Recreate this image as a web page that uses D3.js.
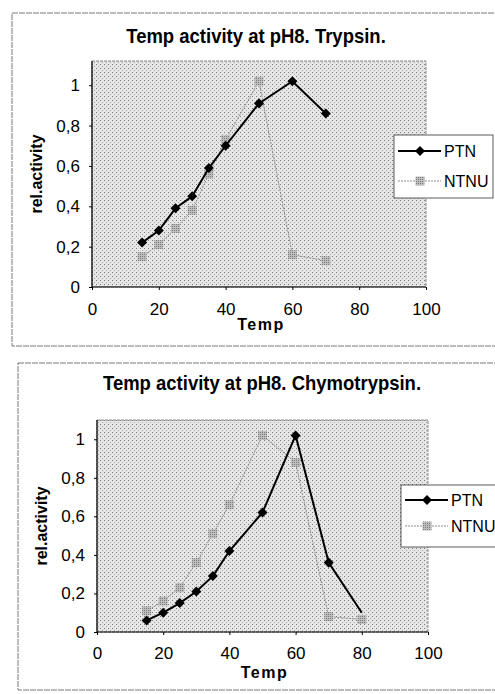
<!DOCTYPE html>
<html>
<head>
<meta charset="utf-8">
<script src="https://cdn.jsdelivr.net/npm/d3@7"></script>
<style>
  body { margin: 0; background: #fff; }
  svg { display: block; font-family: "Liberation Sans", Arial, sans-serif; }
</style>
</head>
<body>
<div id="chart-area"></div>
<script>
const xTicks = [0, 20, 40, 60, 80, 100];
const yTicks = [0, 0.2, 0.4, 0.6, 0.8, 1];

const trypsinTemp = [15, 20, 25, 30, 35, 40, 50, 60, 70];
const trypsinPTN = [0.22, 0.28, 0.39, 0.45, 0.59, 0.70, 0.91, 1.02, 0.86];
const trypsinNTNU = [0.15, 0.21, 0.29, 0.38, 0.56, 0.73, 1.02, 0.16, 0.13];

const chymoTemp = [15, 20, 25, 30, 35, 40, 50, 60, 70, 80];
const chymoPTN = [0.06, 0.10, 0.15, 0.21, 0.29, 0.42, 0.62, 1.02, 0.36, 0.10];
const chymoNTNU = [0.11, 0.16, 0.23, 0.36, 0.51, 0.66, 1.02, 0.88, 0.08, 0.065];

const fmt = v => (v === 0 || v === 1 ? String(v) : String(v).replace(".", ","));

const svg = d3.select("#chart-area")
  .append("svg")
  .attr("width", 495)
  .attr("height", 694);

// stippled gray fill of the plot area
const defs = svg.append("defs");
const pat = defs.append("pattern")
  .attr("id", "stipple")
  .attr("width", 4)
  .attr("height", 4)
  .attr("patternUnits", "userSpaceOnUse");
pat.append("rect").attr("width", 4).attr("height", 4).attr("fill", "#e6e6e6");
pat.append("rect").attr("x", 0).attr("y", 0).attr("width", 1).attr("height", 1).attr("fill", "#7a7a7a");
pat.append("rect").attr("x", 2).attr("y", 2).attr("width", 1).attr("height", 1).attr("fill", "#a8a8a8");

const pat2 = defs.append("pattern")
  .attr("id", "grayMarker")
  .attr("width", 2)
  .attr("height", 2)
  .attr("patternUnits", "userSpaceOnUse");
pat2.append("rect").attr("width", 2).attr("height", 2).attr("fill", "#bdbdbd");
pat2.append("rect").attr("width", 1).attr("height", 1).attr("fill", "#7c7c7c");

const drawChart = c => {
  const g = svg.append("g");

  // outer frame
  g.append("rect")
    .attr("x", c.frame[0]).attr("y", c.frame[1])
    .attr("width", c.frame[2]).attr("height", c.frame[3])
    .attr("fill", "none")
    .attr("stroke", "#555")
    .attr("stroke-width", 0.8)
    .attr("stroke-dasharray", "6,1");

  g.append("text")
    .attr("transform", `translate(${c.titleX},${c.titleY}) scale(1,1.12)`)
    .attr("text-anchor", "middle")
    .attr("font-weight", "bold")
    .attr("font-size", 18.5)
    .text(c.title);

  const x = d3.scaleLinear().domain([0, 100]).range([c.left, c.right]);
  const y = d3.scaleLinear().domain([0, c.yMax]).range([c.bottom, c.top]);

  g.append("rect")
    .attr("x", c.left).attr("y", c.top)
    .attr("width", c.right - c.left).attr("height", c.bottom - c.top)
    .attr("fill", "url(#stipple)")
    .attr("stroke", "#666")
    .attr("stroke-width", 0.8)
    .attr("stroke-dasharray", "3,1");

  const xAxis = g.append("g")
    .attr("transform", `translate(0,${c.bottom})`)
    .call(d3.axisBottom(x).tickValues(xTicks).tickSize(3).tickPadding(c.xPad).tickSizeOuter(0));
  const yAxis = g.append("g")
    .attr("transform", `translate(${c.left},0)`)
    .call(d3.axisLeft(y).tickValues(yTicks).tickFormat(fmt).tickSize(3).tickPadding(9).tickSizeOuter(0));
  [xAxis, yAxis].forEach(a => {
    a.select(".domain").attr("stroke", "#000").attr("stroke-width", 1.2)
      .attr("d", a === xAxis ? `M${c.left},0H${c.right}` : `M0,${c.bottom}V${c.top}`);
    a.selectAll("text").attr("font-size", 17).attr("fill", "#000")
      .attr("font-family", "Liberation Sans, Arial, sans-serif");
  });

  g.append("text")
    .attr("x", (c.left + c.right) / 2 + 2).attr("y", c.bottom + c.xTitleOff)
    .attr("text-anchor", "middle")
    .attr("font-weight", "bold").attr("font-size", 16)
    .attr("letter-spacing", 1.5)
    .text("Temp");
  g.append("text")
    .attr("transform", `translate(${c.yTitleX},${(c.top + c.bottom) / 2}) rotate(-90)`)
    .attr("text-anchor", "middle")
    .attr("font-weight", "bold").attr("font-size", 16)
    .text("rel.activity");

  const line = d3.line().x(d => x(d[0])).y(d => y(d[1]));
  const ntnu = c.temp.map((t, i) => [t, c.ntnu[i]]);
  const ptn = c.temp.map((t, i) => [t, c.ptn[i]]);

  g.append("path").datum(ntnu)
    .attr("d", line).attr("fill", "none")
    .attr("stroke", "#8c8c8c").attr("stroke-width", 1)
    .attr("stroke-dasharray", "2,1");
  g.selectAll(".ntnu").data(ntnu).enter()
    .append("rect")
    .attr("x", d => x(d[0]) - 4.5).attr("y", d => y(d[1]) - 4.5)
    .attr("width", 9).attr("height", 9)
    .attr("fill", "url(#grayMarker)");

  g.append("path").datum(ptn)
    .attr("d", line).attr("fill", "none")
    .attr("stroke", "#000").attr("stroke-width", 2);
  const diamond = d3.symbol().type(d3.symbolDiamond2).size(64);
  g.selectAll(".ptn").data(ptn.filter(d => d[0] <= 70)).enter()
    .append("path")
    .attr("d", diamond)
    .attr("transform", d => `translate(${x(d[0])},${y(d[1])})`)
    .attr("fill", "#000");

  // legend
  const lg = g.append("g").attr("transform", `translate(${c.legend[0]},${c.legend[1]})`);
  lg.append("rect").attr("width", c.legend[5]).attr("height", c.legend[2])
    .attr("fill", "#fff").attr("stroke", "#333").attr("stroke-width", 0.8);
  const r1 = c.legend[3], r2 = c.legend[4];
  lg.append("line").attr("x1", 4).attr("x2", 47).attr("y1", r1).attr("y2", r1)
    .attr("stroke", "#000").attr("stroke-width", 2);
  lg.append("path").attr("d", diamond).attr("transform", `translate(26,${r1})`);
  lg.append("text").attr("x", 50).attr("y", r1 + 6).attr("font-size", 16).text("PTN");
  lg.append("line").attr("x1", 4).attr("x2", 47).attr("y1", r2).attr("y2", r2)
    .attr("stroke", "#8c8c8c").attr("stroke-width", 1).attr("stroke-dasharray", "2,1");
  lg.append("rect").attr("x", 21.5).attr("y", r2 - 4.5).attr("width", 9).attr("height", 9)
    .attr("fill", "url(#grayMarker)");
  lg.append("text").attr("x", 50).attr("y", r2 + 6).attr("font-size", 16).text("NTNU");
};

drawChart({
  frame: [12, 13, 500, 333],
  title: "Temp activity at pH8. Trypsin.",
  titleX: 256, titleY: 43,
  left: 92, right: 426, top: 61, bottom: 287, yMax: 1.12,
  xPad: 13, xTitleOff: 43,
  yTitleX: 42,
  temp: trypsinTemp, ptn: trypsinPTN, ntnu: trypsinNTNU,
  legend: [394, 135, 63, 16, 46, 99]
});

drawChart({
  frame: [18, 363, 500, 327],
  title: "Temp activity at pH8. Chymotrypsin.",
  titleX: 262, titleY: 390,
  left: 97, right: 428, top: 420, bottom: 632, yMax: 1.1,
  xPad: 12, xTitleOff: 46,
  yTitleX: 47,
  temp: chymoTemp, ptn: chymoPTN, ntnu: chymoNTNU,
  legend: [401, 485, 62, 15, 41, 110]
});
</script>
</body>
</html>
